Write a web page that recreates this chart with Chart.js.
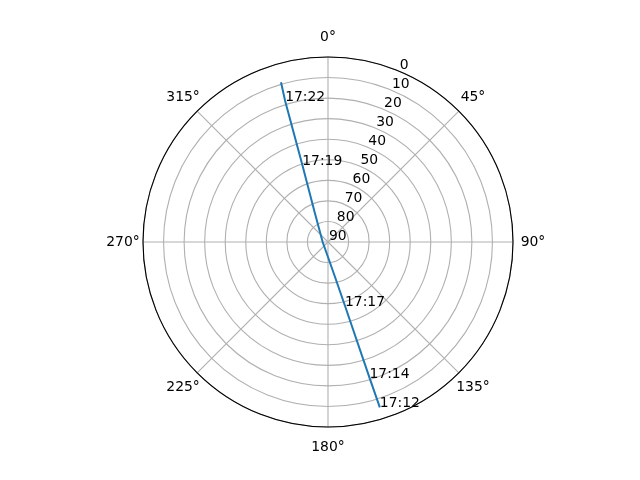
<!DOCTYPE html>
<html>
<head>
<meta charset="utf-8">
<script src="https://cdn.jsdelivr.net/npm/chart.js@4"></script>
<style>
  html, body { margin: 0; padding: 0; background: #fff; }
  #wrap { width: 640px; height: 480px; }
</style>
</head>
<body>
<div id="wrap"><canvas id="skyChart"></canvas></div>
<script>
// pass track in time order: azimuth (deg, clockwise from north) and elevation (deg)
const trackAz = [162.6, 163.0, 165.1, 170.1, 270.0, 336.0, 341.6, 343.1, 343.6];
const trackEl = [5.7, 21.0, 57.9, 75.3, 87.4, 73.8, 50.3, 18.3, 9.0];

// annotated times along the track
const markTimes = ["17:12", "17:14", "17:17", "17:19", "17:22"];
const markAz = [162.6, 163.0, 165.1, 341.6, 343.1];
const markEl = [5.7, 21.0, 57.9, 50.3, 18.3];

// axis ticks
const angleTicks = [0, 45, 90, 135, 180, 225, 270, 315];
const elevTicks = [0, 10, 20, 30, 40, 50, 60, 70, 80, 90];
const radialLabelAngle = 22.5;

const FONT = "13.9px 'DejaVu Sans'";
const deg = Math.PI / 180;

// elevation 90 sits in the centre, 0 on the rim
function toXY(az, el) {
  const r = 90 - el;
  return { x: r * Math.sin(az * deg), y: r * Math.cos(az * deg) };
}

const trackPoints = trackAz.map((a, i) => toXY(a, trackEl[i]));

const polarGrid = {
  id: 'polarGrid',
  beforeDatasetsDraw(chart) {
    const ctx = chart.ctx;
    const xs = chart.scales.x, ys = chart.scales.y;
    const cx = xs.getPixelForValue(0), cy = ys.getPixelForValue(0);
    ctx.save();
    ctx.strokeStyle = '#b0b0b0';
    ctx.lineWidth = 1.1;
    elevTicks.forEach(el => {
      const r = xs.getPixelForValue(90 - el) - cx;
      if (r <= 0) return;
      ctx.beginPath();
      ctx.arc(cx, cy, r, 0, Math.PI * 2);
      ctx.stroke();
    });
    angleTicks.forEach(a => {
      const p = toXY(a, 0);
      ctx.beginPath();
      ctx.moveTo(cx, cy);
      ctx.lineTo(xs.getPixelForValue(p.x), ys.getPixelForValue(p.y));
      ctx.stroke();
    });
    ctx.restore();
  },
  afterDatasetsDraw(chart) {
    const ctx = chart.ctx;
    const xs = chart.scales.x, ys = chart.scales.y;
    const cx = xs.getPixelForValue(0), cy = ys.getPixelForValue(0);
    const R = xs.getPixelForValue(90) - cx;
    ctx.save();
    // outer spine
    ctx.strokeStyle = '#000';
    ctx.lineWidth = 1.1;
    ctx.beginPath();
    ctx.arc(cx, cy, R, 0, Math.PI * 2);
    ctx.stroke();

    ctx.fillStyle = '#000';
    ctx.font = FONT;
    // angle labels
    ctx.textAlign = 'center';
    ctx.textBaseline = 'middle';
    angleTicks.forEach(a => {
      const rr = R + 20;
      ctx.fillText(a + '°', cx + rr * Math.sin(a * deg), cy - rr * Math.cos(a * deg));
    });
    // elevation labels along the 22.5 deg ray
    ctx.textAlign = 'left';
    ctx.textBaseline = 'alphabetic';
    elevTicks.forEach(el => {
      const p = toXY(radialLabelAngle, el);
      ctx.fillText(String(el), xs.getPixelForValue(p.x) + 1, ys.getPixelForValue(p.y) - 2);
    });
    // time annotations
    markTimes.forEach((t, i) => {
      const p = toXY(markAz[i], markEl[i]);
      ctx.fillText(t, xs.getPixelForValue(p.x), ys.getPixelForValue(p.y));
    });
    ctx.restore();
  }
};

new Chart(document.getElementById('skyChart'), {
  type: 'scatter',
  data: {
    datasets: [{
      data: trackPoints,
      showLine: true,
      borderColor: '#1f77b4',
      borderWidth: 2,
      pointRadius: 0,
      fill: false
    }]
  },
  options: {
    responsive: true,
    maintainAspectRatio: false,
    animation: false,
    layout: { padding: { left: 143, right: 127, top: 57, bottom: 53 } },
    plugins: { legend: { display: false }, tooltip: { enabled: false } },
    scales: {
      x: { type: 'linear', min: -90, max: 90, display: false },
      y: { type: 'linear', min: -90, max: 90, display: false }
    }
  },
  plugins: [polarGrid]
});
</script>
</body>
</html>
